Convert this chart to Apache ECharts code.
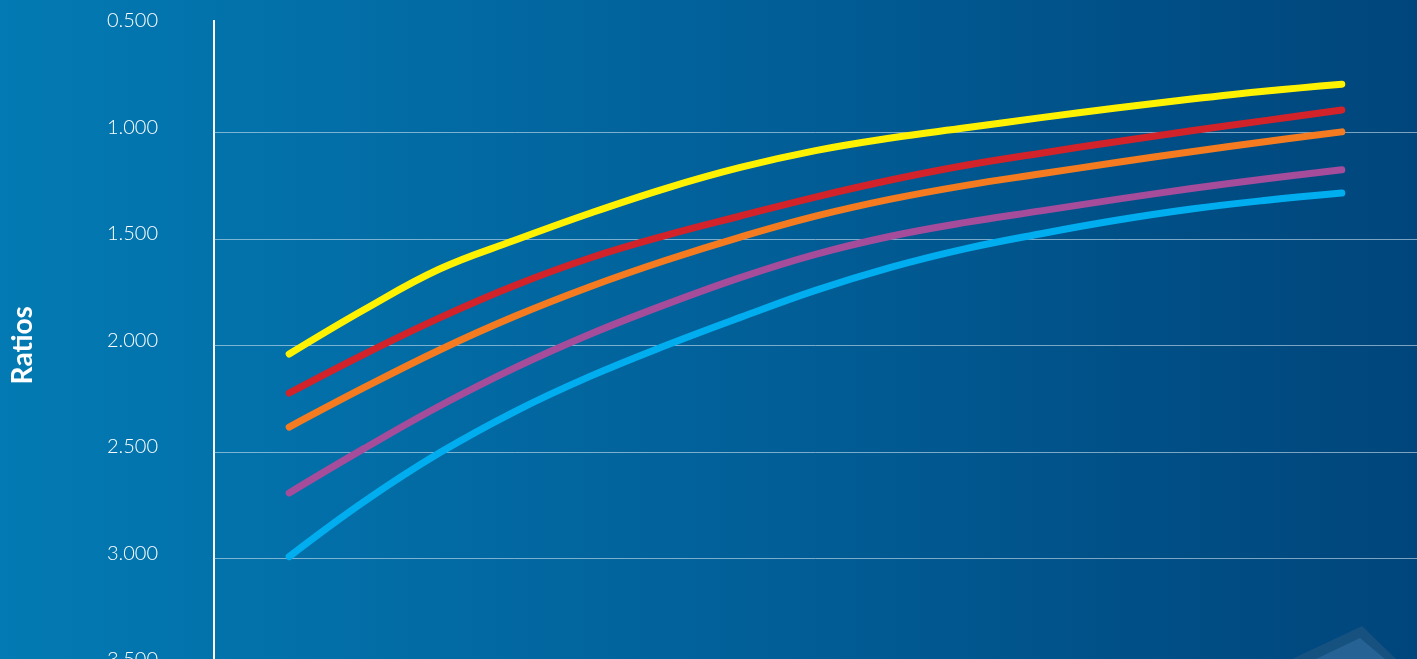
<!DOCTYPE html>
<html>
<head>
<meta charset="utf-8">
<script src="https://cdn.jsdelivr.net/npm/echarts@6/dist/echarts.min.js"></script>
<style>
html,body{margin:0;padding:0;width:1417px;height:659px;overflow:hidden;}
#chart{width:1417px;height:659px;}
</style>
</head>
<body>
<div id="chart"></div>
<script>
// x positions (periods) shared by all series
const periods = [0,1,2,3,4,5,6,7,8,9,10,11,12,13,14];
const yellowValues = [2.041,1.832,1.642,1.507,1.380,1.264,1.165,1.086,1.027,0.979,0.931,0.886,0.844,0.806,0.774];
const redValues    = [2.224,2.041,1.871,1.719,1.590,1.485,1.393,1.304,1.224,1.155,1.098,1.044,0.993,0.944,0.895];
const orangeValues = [2.384,2.198,2.022,1.864,1.725,1.602,1.492,1.394,1.314,1.249,1.195,1.142,1.091,1.043,0.998];
const purpleValues = [2.693,2.484,2.285,2.106,1.948,1.809,1.682,1.573,1.488,1.423,1.369,1.315,1.264,1.218,1.176];
const blueValues   = [2.992,2.733,2.505,2.311,2.146,2.002,1.869,1.742,1.634,1.546,1.476,1.413,1.360,1.319,1.285];
const gridTicks = [1.0,1.5,2.0,2.5,3.0,3.5];
const yAxisName = 'Ratios';

const seriesDefs = [
  {name:'Blue', color:'#00AEEF', values:blueValues},
  {name:'Purple', color:'#A54C9B', values:purpleValues},
  {name:'Orange', color:'#F47B20', values:orangeValues},
  {name:'Red', color:'#D2232A', values:redValues},
  {name:'Yellow', color:'#FFF200', values:yellowValues}
];

const chart = echarts.init(document.getElementById('chart'), null, {renderer:'canvas'});

const series = seriesDefs.map((s, i) => ({
  name: s.name,
  type: 'line',
  data: periods.map((p, k) => [p, s.values[k]]),
  showSymbol: false,
  smooth: 0.4,
  z: 5 + i,
  lineStyle: {color: s.color, width: 7, cap: 'round', join: 'round'},
  itemStyle: {color: s.color},
  silent: true
}));

series.push({
  type: 'line',
  data: [],
  silent: true,
  markLine: {
    silent: true,
    symbol: ['none','none'],
    label: {show:false},
    lineStyle: {color:'rgba(205,225,240,0.6)', width:1, type:'solid'},
    data: gridTicks.map(t => ({yAxis: t}))
  },
  z: 1
});

chart.setOption({
  animation: false,
  backgroundColor: {
    type: 'linear', x: 0, y: 0, x2: 1, y2: 0,
    colorStops: [
      {offset: 0, color: '#037ab3'},
      {offset: 0.5, color: '#02619a'},
      {offset: 0.85, color: '#004d84'},
      {offset: 1, color: '#00467c'}
    ]
  },
  graphic: [
    {type:'line', shape:{x1:214, y1:20, x2:214, y2:27}, style:{stroke:'#ffffff', lineWidth:2}, z:10},
    {type:'polygon', shape:{points:[[1292,659],[1362,626],[1396,659]]}, style:{fill:'rgba(40,90,130,0.55)'}, z:0},
    {type:'polygon', shape:{points:[[1316,659],[1360,638],[1385,659]]}, style:{fill:'rgba(50,110,160,0.6)'}, z:0}
  ],
  grid: {left: 214, right: 0, top: 25.8, height: 639, containLabel: false, outerBoundsMode: 'none'},
  xAxis: {
    type: 'value', min: -1, max: 15, show: false
  },
  yAxis: {
    type: 'value',
    inverse: true,
    min: 0.5,
    max: 3.5,
    interval: 0.5,
    name: yAxisName,
    nameLocation: 'middle',
    nameRotate: 90,
    nameGap: 177,
    nameTextStyle: {color:'#ffffff', fontSize: 28, fontWeight: 'bold', fontFamily: 'Lato'},
    axisLine: {show: true, onZero: false, lineStyle: {color: '#ffffff', width: 2}},
    axisTick: {show: false},
    splitLine: {show: false},
    axisLabel: {
      color: '#ffffff',
      fontSize: 20,
      fontWeight: 300,
      fontFamily: 'Lato',
      margin: 56,
      verticalAlign: 'bottom',
      lineHeight: 10,
      showMinLabel: true,
      showMaxLabel: true,
      formatter: v => v.toFixed(3)
    }
  },
  series: series
});
</script>
</body>
</html>
